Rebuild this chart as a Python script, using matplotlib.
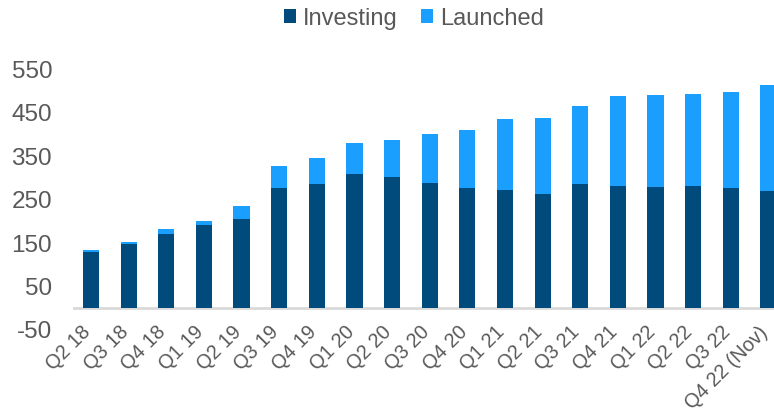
import numpy as np
import matplotlib.pyplot as plt
from matplotlib.transforms import ScaledTranslation

plt.rcParams['font.family'] = ['Liberation Sans', 'DejaVu Sans']
plt.rcParams['axes.unicode_minus'] = False

quarters = ["Q2 18", "Q3 18", "Q4 18", "Q1 19", "Q2 19", "Q3 19", "Q4 19",
            "Q1 20", "Q2 20", "Q3 20", "Q4 20", "Q1 21", "Q2 21", "Q3 21",
            "Q4 21", "Q1 22", "Q2 22", "Q3 22", "Q4 22 (Nov)"]
investing = [130, 149, 172, 192, 205, 277, 286, 309, 302, 288, 276, 272, 263,
             286, 282, 278, 281, 276, 270]
totals = [135, 153, 182, 200, 235, 327, 347, 380, 387, 401, 411, 435, 437,
          465, 488, 491, 494, 498, 514]
launched = [t - i for t, i in zip(totals, investing)]

DARK = '#004B7C'
LIGHT = '#1A9FFF'
GREY = '#595959'

fig = plt.figure(figsize=(7.74, 4.13), dpi=100)
ax = fig.add_axes([73 / 774, 1 - 330 / 413, 1 - 73 / 774, (330 - 69.3) / 413])

x = np.arange(len(quarters))
ax.bar(x, investing, width=0.43, color=DARK, label='Investing')
ax.bar(x, launched, width=0.43, bottom=investing, color=LIGHT, label='Launched')

ax.set_xlim(-0.48, 18.15)
ax.set_ylim(-50, 550)
ax.set_yticks(np.arange(-50, 551, 100))
ax.axhline(0, color='#d9d9d9', lw=2, zorder=0)

for s in ax.spines.values():
    s.set_visible(False)
ax.tick_params(axis='both', length=0, colors=GREY)
ax.tick_params(axis='y', pad=15, labelsize=17.5)
ax.set_xticks(x)
ax.set_xticklabels(quarters, rotation=45, ha='right', rotation_mode='anchor', fontsize=14.3)
ax.tick_params(axis='x', pad=-9)
shift = ScaledTranslation(-0.10, -0.05, fig.dpi_scale_trans)
for lbl in ax.get_xticklabels():
    lbl.set_transform(lbl.get_transform() + shift)

fig.legend(loc='center', bbox_to_anchor=(0.535, 0.955), ncol=2, frameon=False,
           fontsize=17, handlelength=0.5, handleheight=0.5, handletextpad=0.3,
           columnspacing=1.0, labelcolor=GREY)

fig.savefig('out.png', dpi=100)
